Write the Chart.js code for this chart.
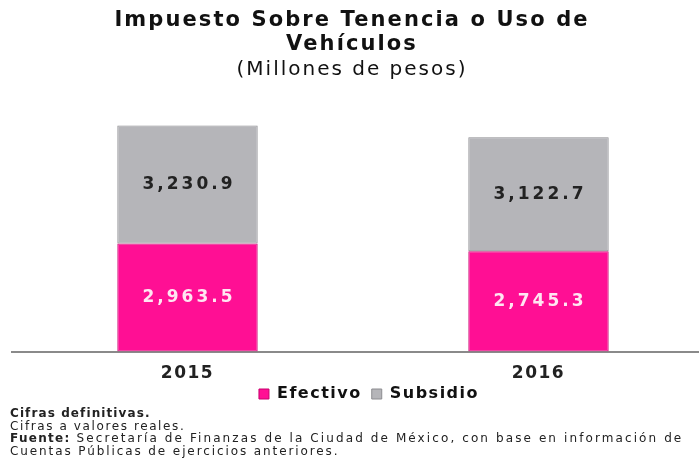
<!DOCTYPE html>
<html>
<head>
<meta charset="utf-8">
<script src="https://cdn.jsdelivr.net/npm/chart.js@4/dist/chart.umd.min.js"></script>
<style>
  html, body { margin:0; padding:0; width:699px; height:462px; overflow:hidden; background:#fff; }
  #wrap { position:absolute; left:-16px; top:0; width:730px; height:462px; }
  #title { position:absolute; left:0; width:704px; top:8px; text-align:center; font-family:"DejaVu Sans", sans-serif; color:#111; }
  #title .t1 { font-weight:bold; font-size:21px; line-height:23.5px; letter-spacing:2.1px; }
  #title .t2 { font-weight:normal; font-size:20px; line-height:24px; letter-spacing:2px; margin-top:1px; }
  #notes { position:absolute; left:10px; top:407px; font-family:"DejaVu Sans", sans-serif; font-size:12px; line-height:12.7px; color:#222; }
  #notes div { white-space:nowrap; }
</style>
</head>
<body>
<div id="wrap"><canvas id="c" width="730" height="462"></canvas></div>
<div id="title">
  <div class="t1">Impuesto Sobre Tenencia o Uso de</div>
  <div class="t1">Vehículos</div>
  <div class="t2">(Millones de pesos)</div>
</div>
<div id="notes">
  <div style="font-weight:bold;letter-spacing:1.1px">Cifras definitivas.</div>
  <div style="letter-spacing:1.6px">Cifras a valores reales.</div>
  <div style="letter-spacing:2.1px"><b style="letter-spacing:1.3px">Fuente:</b> Secretaría de Finanzas de la Ciudad de México, con base en información de</div>
  <div style="letter-spacing:1.9px">Cuentas Públicas de ejercicios anteriores.</div>
</div>
<script>
const categories = ["2015", "2016"];
const efectivo = [2963.5, 2745.3];
const subsidio = [3230.9, 3122.7];
const seriesNames = ["Efectivo", "Subsidio"];

const fmt = v => v.toLocaleString("en-US", {minimumFractionDigits:1, maximumFractionDigits:1});

const spacingPlugin = {
  id: "spacing",
  beforeUpdate(chart) { chart.ctx.letterSpacing = "1.5px"; },
  beforeDraw(chart) { chart.ctx.letterSpacing = "1.5px"; }
};

const labelPlugin = {
  id: "segLabels",
  afterDatasetsDraw(chart) {
    const ctx = chart.ctx;
    chart.data.datasets.forEach((ds, di) => {
      const meta = chart.getDatasetMeta(di);
      meta.data.forEach((bar, i) => {
        const v = ds.data[i];
        const y = (bar.y + bar.base) / 2;
        ctx.save();
        ctx.font = "bold 17px 'DejaVu Sans'";
        ctx.letterSpacing = "3px";
        ctx.textAlign = "center";
        ctx.textBaseline = "middle";
        ctx.fillStyle = di === 0 ? "#ffe6f2" : "#222222";
        ctx.fillText(fmt(v), bar.x + 1.5, y);
        ctx.restore();
      });
    });
  }
};

const shiftPlugin = {
  id: "shiftLegend",
  afterLayout(chart) {
    const lg = chart.legend;
    if (lg) { lg.left += 20; lg.right += 20; lg.top -= 12; lg.bottom -= 12; }
  }
};

new Chart(document.getElementById("c"), {
  type: "bar",
  data: {
    labels: categories,
    datasets: [
      { label: seriesNames[0], data: efectivo, backgroundColor: "#ff0f94", borderColor: "#c8006e", borderWidth: 1, borderSkipped: false },
      { label: seriesNames[1], data: subsidio, backgroundColor: "#b5b5b9", borderColor: "#8c8c90", borderWidth: 1, borderSkipped: false }
    ]
  },
  options: {
    responsive: false,
    animation: false,
    layout: { padding: { left: 0, right: 0, top: 96, bottom: 38 } },
    datasets: { bar: { categoryPercentage: 1, barPercentage: 0.4 } },
    scales: {
      x: {
        stacked: true,
        grid: { display: false },
        border: { display: true, color: "#8a8a8a", width: 2 },
        ticks: { color: "#222", font: { family: "DejaVu Sans", size: 17, weight: "bold" }, padding: 4 }
      },
      y: {
        stacked: true,
        min: 0, max: 7000,
        grid: { display: false },
        border: { display: false },
        ticks: { display: false },
        afterFit(s) { s.width = 28; }
      }
    },
    plugins: {
      title: { display: false },
      legend: {
        position: "bottom",
        labels: {
          color: "#111",
          boxWidth: 10, boxHeight: 10,
          font: { family: "DejaVu Sans", size: 16, weight: "bold" },
          padding: 10
        }
      },
      tooltip: { enabled: false }
    }
  },
  plugins: [spacingPlugin, labelPlugin, shiftPlugin]
});
</script>
</body>
</html>
